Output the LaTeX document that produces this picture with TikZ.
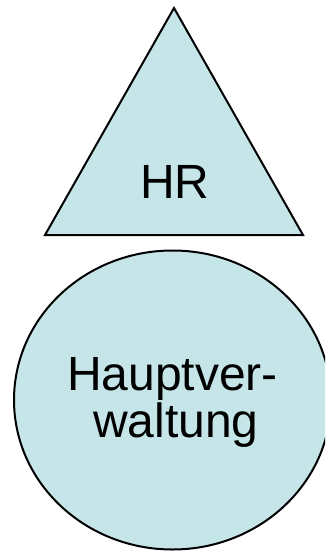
\documentclass[tikz,border=0pt]{standalone}
\usepackage{fontspec}
\setmainfont{Liberation Sans}
\definecolor{shapefill}{RGB}{197,229,232}
\begin{document}
\begin{tikzpicture}[x=1pt,y=-1pt,
  shapestyle/.style={draw=black,line width=2pt,fill=shapefill,line join=miter},
  label/.style={font=\fontsize{48}{48}\selectfont,anchor=base,inner sep=0pt}]
\useasboundingbox (0,0) rectangle (325,551);
\clip (0,0) rectangle (325,551);
\draw[shapestyle] (174,8) -- (303,235) -- (45,235) -- cycle;
\draw[shapestyle] (172.5,400) ellipse [x radius=158.5, y radius=149.5];
\node[label] (hr) at (175,198) {HR};
\node[label] (hv1) at (172.5,390) {Hauptver-};
\node[label] (hv2) at (176,437) {waltung};
\end{tikzpicture}
\end{document}
